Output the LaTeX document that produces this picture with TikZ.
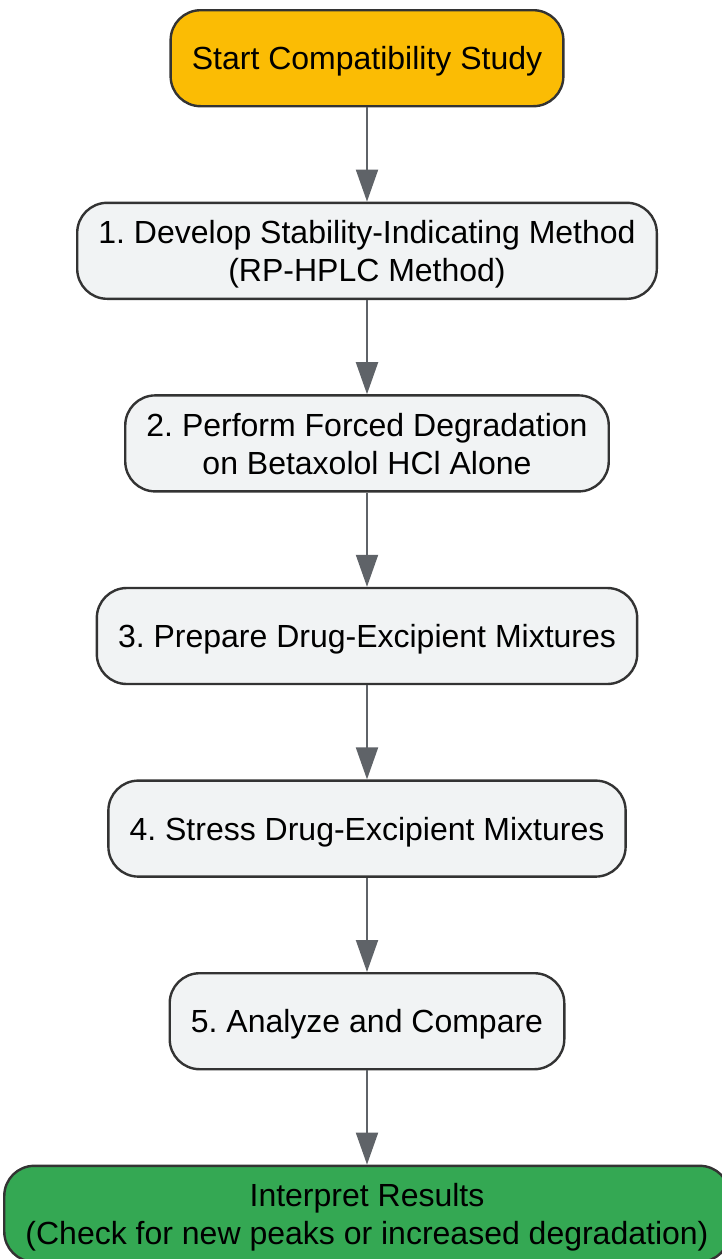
\documentclass[tikz,border=0pt]{standalone}
\usepackage{fontspec}
\setmainfont{Liberation Sans}
\usetikzlibrary{arrows.meta,positioning}
\definecolor{startfill}{HTML}{FBBC04}
\definecolor{stepfill}{HTML}{F1F3F4}
\definecolor{endfill}{HTML}{34A853}
\definecolor{edgegray}{HTML}{5F6368}
\definecolor{bordergray}{HTML}{333333}
\frenchspacing

\begin{document}
\begin{tikzpicture}[>={Triangle[width=11pt,length=16pt]},
		node distance = 47.1pt,
		box/.style = {draw=bordergray, line width=1.2pt, rounded corners=15pt, align=center,
			minimum height=48pt, text depth=0pt, inner xsep=10.6pt, font=\fontsize{16}{19}\selectfont},
		startbox/.style = {box, fill=startfill},
		stepbox/.style = {box, fill=stepfill},
		endbox/.style = {box, fill=endfill}
		]
		\useasboundingbox (0,0) rectangle (361pt,-629.5pt);
		
		\node (s0) [startbox] at (183.5pt,-29.1pt) {Start Compatibility Study};
		\node (s1) [stepbox,below=of s0] {1. Develop Stability-Indicating Method\\(RP-HPLC Method)};
		\node (s2) [stepbox,below=of s1] {2. Perform Forced Degradation\\on Betaxolol HCl Alone};
		\node (s3) [stepbox,below=of s2] {3. Prepare Drug-Excipient Mixtures};
		\node (s4) [stepbox,below=of s3] {4. Stress Drug-Excipient Mixtures};
		\node (s5) [stepbox,below=of s4] {5. Analyze and Compare};
		\node (s6) [endbox,below=of s5] {Interpret Results\\(Check for new peaks or increased degradation)};
		
		\path[->, draw=edgegray, fill=edgegray, line width=1pt]
		(s0) edge (s1)
		(s1) edge (s2)
		(s2) edge (s3)
		(s3) edge (s4)
		(s4) edge (s5)
		(s5) edge (s6)
		;
		
\end{tikzpicture}
\end{document}
